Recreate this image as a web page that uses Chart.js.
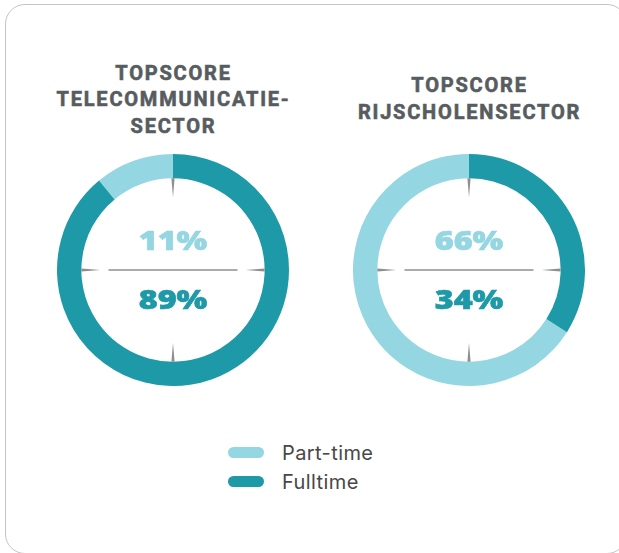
<!DOCTYPE html>
<html>
<head>
<meta charset="utf-8">
<script src="https://cdn.jsdelivr.net/npm/chart.js@4"></script>
<style>
  html, body { margin:0; padding:0; background:#fff; width:619px; height:553px; overflow:hidden; }
  #card { position:absolute; left:5px; top:4px; width:622px; height:550px; border:1px solid #c4c4c4; border-radius:20px; box-sizing:border-box; }
  .title { position:absolute; width:320px; text-align:center; font-family:Roboto, sans-serif; font-weight:700; font-size:20px; letter-spacing:1.8px; line-height:26.5px; color:#575c5f; -webkit-text-stroke:0.6px #575c5f; }
  .wrap { position:absolute; width:232px; height:232px; }
  #legend { position:absolute; left:228px; top:438px; font-family:Inter, sans-serif; font-size:20px; letter-spacing:0.4px; color:#474747; }
  .item { display:flex; align-items:center; height:29px; }
  .sw { width:36px; height:11px; border-radius:6px; margin-right:18px; }
</style>
</head>
<body>
<div id="card"></div>
<div id="t0" class="title"></div>
<div id="t1" class="title"></div>
<div id="w0" class="wrap"><canvas id="c0"></canvas></div>
<div id="w1" class="wrap"><canvas id="c1"></canvas></div>
<div id="legend"></div>
<script>
// ---- data ----
const segmentLabels = ['Part-time', 'Fulltime'];
const sectorTitles = [
  ['TOPSCORE', 'TELECOMMUNICATIE-', 'SECTOR'],
  ['TOPSCORE', 'RIJSCHOLENSECTOR']
];
const partTimeValues = [11, 66];
const fulltimeValues = [89, 34];
const segmentColors = ['#94D6E1', '#1E99A7'];

// ---- layout ----
const centers = [[172.5, 269.5], [468.5, 269.5]];
const titleCenters = [99.3, 98.5];

const centerPlugin = {
  id: 'centerDeco',
  afterDatasetsDraw(chart) {
    const arc = chart.getDatasetMeta(0).data[0];
    if (!arc) return;
    const { x, y, innerRadius } = arc.getProps(['x', 'y', 'innerRadius'], true);
    const ctx = chart.ctx;
    ctx.save();
    // horizontal divider
    ctx.strokeStyle = '#ababad';
    ctx.lineWidth = 2;
    ctx.beginPath();
    ctx.moveTo(x - 64.5, y);
    ctx.lineTo(x + 64.5, y);
    ctx.stroke();
    // spikes from inner edge
    ctx.fillStyle = '#8f8f92';
    const len = 19, half = 1.6;
    [[0, -1], [0, 1], [-1, 0], [1, 0]].forEach(([dx, dy]) => {
      const bx = x + dx * innerRadius, by = y + dy * innerRadius;
      const tx = x + dx * (innerRadius - len), ty = y + dy * (innerRadius - len);
      ctx.beginPath();
      ctx.moveTo(bx - dy * half, by - dx * half);
      ctx.lineTo(bx + dy * half, by + dx * half);
      ctx.lineTo(tx, ty);
      ctx.closePath();
      ctx.fill();
    });
    // center percentages
    const ds = chart.data.datasets[0].data;
    ctx.textAlign = 'center';
    ctx.textBaseline = 'middle';
    ctx.font = '800 27px "Open Sans"';
    const sx = 1.2;
    [[ds[0], -28, segmentColors[0]], [ds[1], 31, segmentColors[1]]].forEach(([v, dy, col]) => {
      ctx.save();
      ctx.translate(x, y + dy);
      ctx.scale(sx, 1);
      ctx.fillStyle = col;
      ctx.strokeStyle = col;
      ctx.lineWidth = 0.6;
      ctx.fillText(v + '%', 0, 0);
      ctx.strokeText(v + '%', 0, 0);
      ctx.restore();
    });
    ctx.restore();
  }
};

[0, 1].forEach(i => {
  const t = document.getElementById('t' + i);
  t.innerHTML = sectorTitles[i].join('<br>');
  const lines = sectorTitles[i].length;
  t.style.left = (centers[i][0] - 160 + 1) + 'px';
  t.style.top = (titleCenters[i] - lines * 26.5 / 2) + 'px';

  const w = document.getElementById('w' + i);
  w.style.left = (centers[i][0] - 116) + 'px';
  w.style.top = (centers[i][1] - 116) + 'px';

  new Chart(document.getElementById('c' + i), {
    type: 'doughnut',
    data: {
      labels: segmentLabels,
      datasets: [{
        data: [partTimeValues[i], fulltimeValues[i]],
        backgroundColor: segmentColors,
        borderWidth: 0
      }]
    },
    options: {
      responsive: true,
      maintainAspectRatio: false,
      animation: false,
      cutout: '79%',
      rotation: -partTimeValues[i] * 3.6,
      plugins: { legend: { display: false }, tooltip: { enabled: false } },
      layout: { padding: 0 }
    },
    plugins: [centerPlugin]
  });
});

const legend = document.getElementById('legend');
segmentLabels.forEach((lab, k) => {
  const it = document.createElement('div');
  it.className = 'item';
  it.innerHTML = '<span class="sw" style="background:' + segmentColors[k] + '"></span><span>' + lab + '</span>';
  legend.appendChild(it);
});
</script>
</body>
</html>
